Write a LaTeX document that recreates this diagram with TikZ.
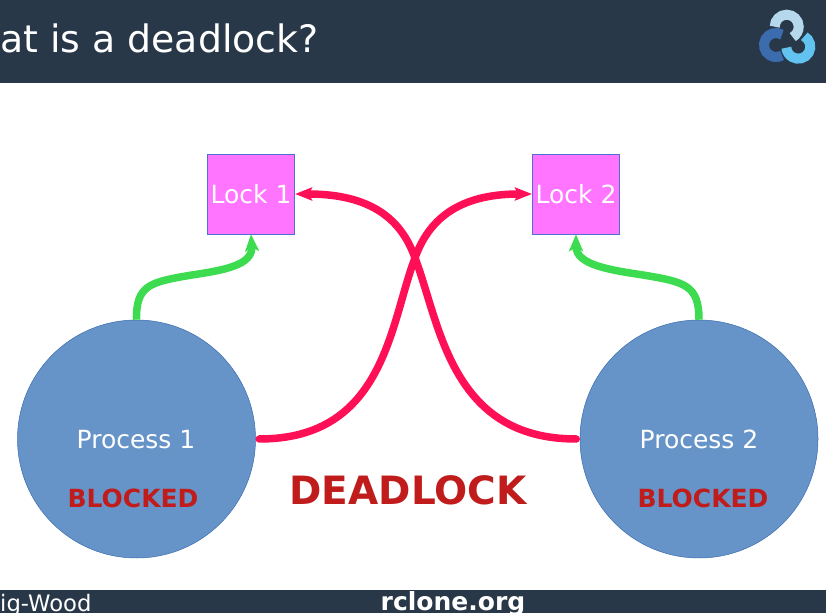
\documentclass[tikz,border=0pt]{standalone}
\usepackage{fontspec}
\setmainfont{DejaVu Sans}
\usetikzlibrary{arrows.meta}
\definecolor{barblue}{HTML}{293848}
\definecolor{procblue}{HTML}{6794C8}
\definecolor{lockpink}{HTML}{FF75FF}
\definecolor{holdgreen}{HTML}{3DDC50}
\definecolor{waitred}{HTML}{FF0F55}
\definecolor{blockred}{HTML}{C01C1C}
\definecolor{logodark}{HTML}{3A6CAE}
\definecolor{logolight}{HTML}{B5D8EC}
\definecolor{logocyan}{HTML}{62C3F0}

\begin{document}
\begin{tikzpicture}[x=1pt,y=1pt,
    process node/.style={circle,draw=logodark,line width=0.5pt,fill=procblue,minimum size=238pt,inner sep=0pt},
    lock node/.style={rectangle,draw=blue!25!procblue,line width=0.6pt,fill=lockpink,minimum width=87.5pt,minimum height=80pt,inner sep=0pt,text=white,font=\fontsize{25}{30}\selectfont},
    plain label/.style={text=white,font=\fontsize{25}{30}\selectfont,inner sep=0pt},
    blocked label/.style={text=blockred,font=\fontsize{25}{30}\selectfont\bfseries,inner sep=0pt},
    holds/.style={-{Stealth[length=17pt,width=14pt,inset=4pt]},line width=7.5pt,holdgreen},
    waits/.style={-{Stealth[length=17pt,width=13pt,inset=3pt]},line width=7.5pt,line cap=round,shorten <=3.5pt,waitred}]

  \useasboundingbox (0,0) rectangle (826,613);
  \fill[barblue] (0,530) rectangle (826,613);
  \fill[barblue] (0,0) rectangle (826,23);

  \node[text=white,anchor=base west,inner sep=0pt,font=\fontsize{37.8}{44}\selectfont] (title) at (0,560) {at is a deadlock?};
  \node[text=white,anchor=base west,inner sep=0pt,font=\fontsize{22.7}{26}\selectfont] (author) at (0,2) {ig-Wood};
  \node[text=white,anchor=base,inner sep=0pt,font=\fontsize{25}{28}\selectfont\bfseries] (site) at (453,2.3) {rclone.org};

  % logo
  \draw[line width=10pt,logodark] (782,578.4) arc (60:300:12);
  \draw[line width=10pt,logolight] (774.7,586.3) arc (180:-60:12);
  \draw[line width=10pt,logocyan] (804.3,576.7) arc (60:-175:12);

  \node[process node] (proc1) at (136.5,174) {};
  \node[process node] (proc2) at (699,174) {};
  \node[lock node] (lock1) at (251,419) {Lock 1};
  \node[lock node] (lock2) at (576,419) {Lock 2};

  \node[plain label] (proc1text) at (136,173.5) {Process 1};
  \node[plain label] (proc2text) at (699,173.5) {Process 2};
  \node[blocked label] (blocked1) at (133,115) {BLOCKED};
  \node[blocked label] (blocked2) at (703,115) {BLOCKED};
  \node[text=blockred,inner sep=0pt,font=\fontsize{39}{44}\selectfont\bfseries] (deadlock) at (408,122.5) {DEADLOCK};

  \coordinate (bend1) at (192,338);
  \coordinate (bend2) at (643,338);
  \coordinate (cross) at (415,355);

  \draw[holds] (proc1.north) .. controls (136,328) and (150,331) .. (bend1)
               .. controls (225,343) and (253,348) .. (lock1.south);
  \draw[holds] (proc2.north) .. controls (699,328) and (685,331) .. (bend2)
               .. controls (610,343) and (576,348) .. (lock2.south);
  \draw[waits] (proc1.east) .. controls (385,174) and (390,290) .. (cross)
               .. controls (428,392) and (457,419) .. (lock2.west);
  \draw[waits] (proc2.west) .. controls (450,174) and (440,290) .. (cross)
               .. controls (402,392) and (373,419) .. (lock1.east);

\end{tikzpicture}
\end{document}
